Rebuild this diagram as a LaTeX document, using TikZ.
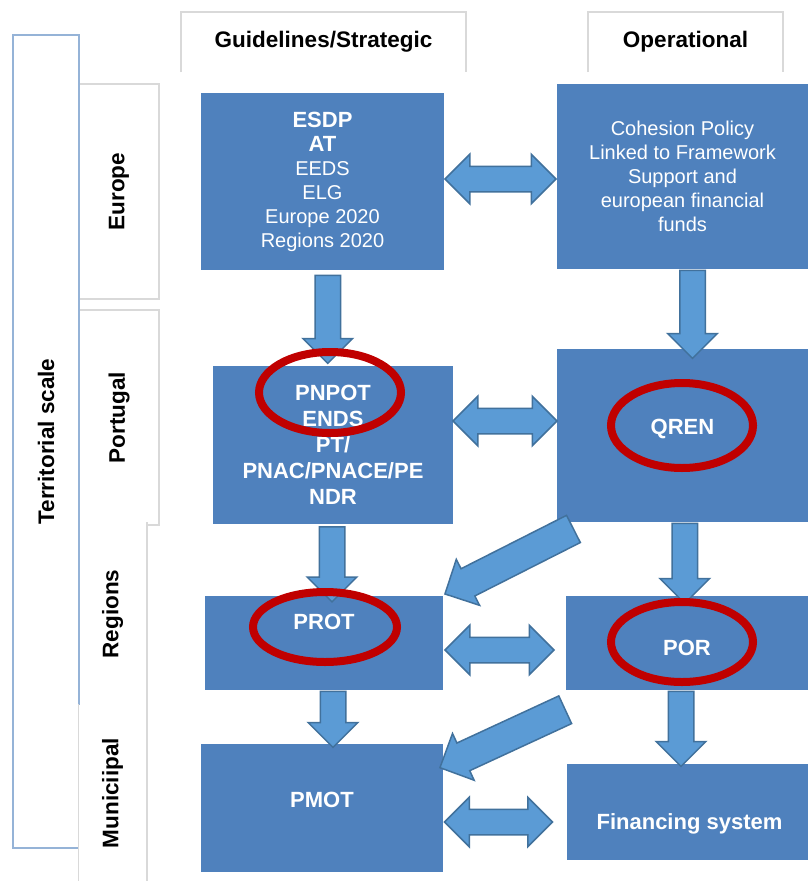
\documentclass[tikz,border=0pt]{standalone}
\usepackage{graphicx}
\usepackage{fontspec}
\setmainfont{Liberation Sans}
\usetikzlibrary{shapes.arrows,shapes.geometric}

\definecolor{boxblue}{HTML}{4F81BD}
\definecolor{arrowfill}{HTML}{5B9BD5}
\definecolor{arrowline}{HTML}{41719C}
\definecolor{ringred}{HTML}{C00000}
\definecolor{edgegray}{HTML}{D9D9D9}
\definecolor{scaleblue}{HTML}{95B3D7}

\tikzset{
  bluebox/.style={fill=boxblue,inner sep=0},
  plaintext/.style={text=white,align=center,inner sep=0,font=\fontsize{20}{24}\selectfont},
  boldtext/.style={text=white,align=center,inner sep=0,font=\bfseries\fontsize{22}{26}\selectfont},
  header/.style={inner sep=0,font=\bfseries\fontsize{22.5}{27}\selectfont},
  grayedge/.style={draw=edgegray,line width=1.5},
  sidebox/.style={grayedge,fill=white,inner sep=0,font=\bfseries\fontsize{22.5}{27}\selectfont},
  scalebox/.style={draw=scaleblue,line width=2,fill=white,inner sep=0,font=\bfseries\fontsize{22.5}{27}\selectfont},
  downarrow/.style={single arrow,rotate=-90,draw=arrowline,fill=arrowfill,line width=1.5,inner xsep=0,inner ysep=12,minimum width=48,single arrow head extend=12},
  twinarrow/.style={double arrow,draw=arrowline,fill=arrowfill,line width=1.5,inner xsep=0,inner ysep=12,minimum width=48,double arrow head extend=12},
  slantarrow/.style={single arrow,sloped,allow upside down,draw=arrowline,fill=arrowfill,line width=1.5,inner xsep=0,inner ysep=14.5,minimum width=50,single arrow head extend=10.5},
  redring/.style={ellipse,draw=ringred,line width=8,inner sep=0}
}

\begin{document}
\begin{tikzpicture}[x=1pt,y=-1pt]
  \useasboundingbox[fill=white] (0,0) rectangle (808,881);

  % column headers
  \node[header,minimum width=285,minimum height=60] (guide) at (323.5,42) {Guidelines/Strategic};
  \node[header,minimum width=195,minimum height=60] (oper) at (685.5,42) {Operational};
  \draw[grayedge] (guide.south west) |- (guide.north east) -- (guide.south east);
  \draw[grayedge] (oper.south west) |- (oper.north east) -- (oper.south east);

  % territorial scale
  \node[sidebox,minimum width=80,minimum height=215] (europe) at (119,191.5) {\rotatebox{90}{Europe}};
  \node[sidebox,minimum width=80,minimum height=215] (portugal) at (119,417.5) {\rotatebox{90}{Portugal}};
  \node[sidebox,draw=none,minimum width=67,minimum height=182] (regions) at (112.5,614) {\rotatebox{90}{Regions}};
  \node[scalebox,minimum width=66,minimum height=813] (scale) at (46,441.5) {\rotatebox{90}{Territorial scale}};
  \node[sidebox,draw=none,minimum width=67,minimum height=176] (munic) at (112.5,793) {\rotatebox{90}{Municiipal}};
  \draw[grayedge] (munic.south west) -- (munic.north west);
  \draw[grayedge] (regions.north east) -- (munic.south east);

  % boxes
  \node[bluebox,minimum width=243,minimum height=177] (esdp) at (322.5,181.5) {};
  \node[bluebox,minimum width=251,minimum height=185] (cohesion) at (682.5,176.5) {};
  \node[bluebox,minimum width=240,minimum height=158] (pnpot) at (333,445) {};
  \node[bluebox,minimum width=251,minimum height=173] (qren) at (682.5,435.5) {};
  \node[bluebox,minimum width=238,minimum height=94] (prot) at (324,643) {};
  \node[bluebox,minimum width=242,minimum height=94] (por) at (687,643) {};
  \node[bluebox,minimum width=242,minimum height=128] (pmot) at (322,808) {};
  \node[bluebox,minimum width=241,minimum height=96] (financing) at (687.5,812) {};

  % arrows
  \path ([yshift=5]esdp.south) -- ([yshift=5]pnpot.north) node[midway,downarrow,minimum height=88] (a1) {};
  \path ([xshift=10,yshift=5]cohesion.south) -- ([xshift=10,yshift=-3]qren.north) node[midway,downarrow,minimum height=88] (a2) {};
  \path ([yshift=5]pnpot.south) -- ([xshift=7,yshift=-1]prot.north) node[midway,downarrow,minimum height=75] (a3) {};
  \path ([yshift=5]qren.south) -- ([yshift=-1]por.north) node[midway,downarrow,minimum height=80] (a4) {};
  \path ([xshift=9,yshift=5]prot.south) -- ([xshift=11,yshift=3]pmot.north) node[midway,downarrow,minimum height=56] (a5) {};
  \path ([xshift=-6,yshift=5]por.south) -- ([xshift=-6.5,yshift=4]financing.north) node[midway,downarrow,minimum height=75] (a6) {};
  \path ([xshift=23,yshift=-3.5]qren.south west) -- ([xshift=9,yshift=5.5]prot.north east) node[midway,slantarrow,minimum height=144] (a7) {};
  \path ([xshift=6,yshift=-16.5]por.south west) -- ([xshift=4,yshift=-20.5]pmot.north east) node[midway,slantarrow,minimum height=138] (a8) {};
  \path (esdp.east) -- (cohesion.west) node[midway,twinarrow,minimum height=111] (b1) {};
  \path ([yshift=24]pnpot.east) -- ([yshift=14.5]qren.west) node[midway,twinarrow,minimum height=104] (b2) {};
  \path ([yshift=-7]prot.east) -- ([xshift=-10,yshift=-7]por.west) node[midway,twinarrow,minimum height=109] (b3) {};
  \path ([yshift=-14]pmot.east) -- ([xshift=-13,yshift=-10]financing.west) node[midway,twinarrow,minimum height=108] (b4) {};

  % texts
  \node[plaintext] (esdp-txt) at (esdp) {{\bfseries\fontsize{22}{24}\selectfont ESDP}\\{\bfseries\fontsize{22}{24}\selectfont AT}\\EEDS\\ELG\\Europe 2020\\Regions 2020};
  \node[plaintext] (cohesion-txt) at (cohesion) {Cohesion Policy\\Linked to Framework\\Support and\\european financial\\funds};
  \node[boldtext] (pnpot-txt) at (pnpot) {PNPOT\\ENDS\\PT/\\PNAC/PNACE/PE\\NDR};
  \node[boldtext] (qren-txt) at ([yshift=7]qren.center) {QREN};
  \node[boldtext] (prot-txt) at ([yshift=21]prot.center) {PROT};
  \node[boldtext] (por-txt) at ([yshift=-5]por.center) {POR};
  \node[boldtext] (pmot-txt) at ([yshift=8]pmot.center) {PMOT};
  \node[boldtext] (financing-txt) at ([xshift=2,yshift=-12]financing.center) {Financing system};

  % highlights
  \node[redring,minimum width=142,minimum height=81] (ring-pnpot) at (330,392.5) {};
  \node[redring,minimum width=142,minimum height=85] (ring-qren) at (682,425.5) {};
  \node[redring,minimum width=144,minimum height=70] (ring-prot) at (325,627) {};
  \node[redring,minimum width=142,minimum height=80] (ring-por) at (682,642) {};
\end{tikzpicture}
\end{document}
